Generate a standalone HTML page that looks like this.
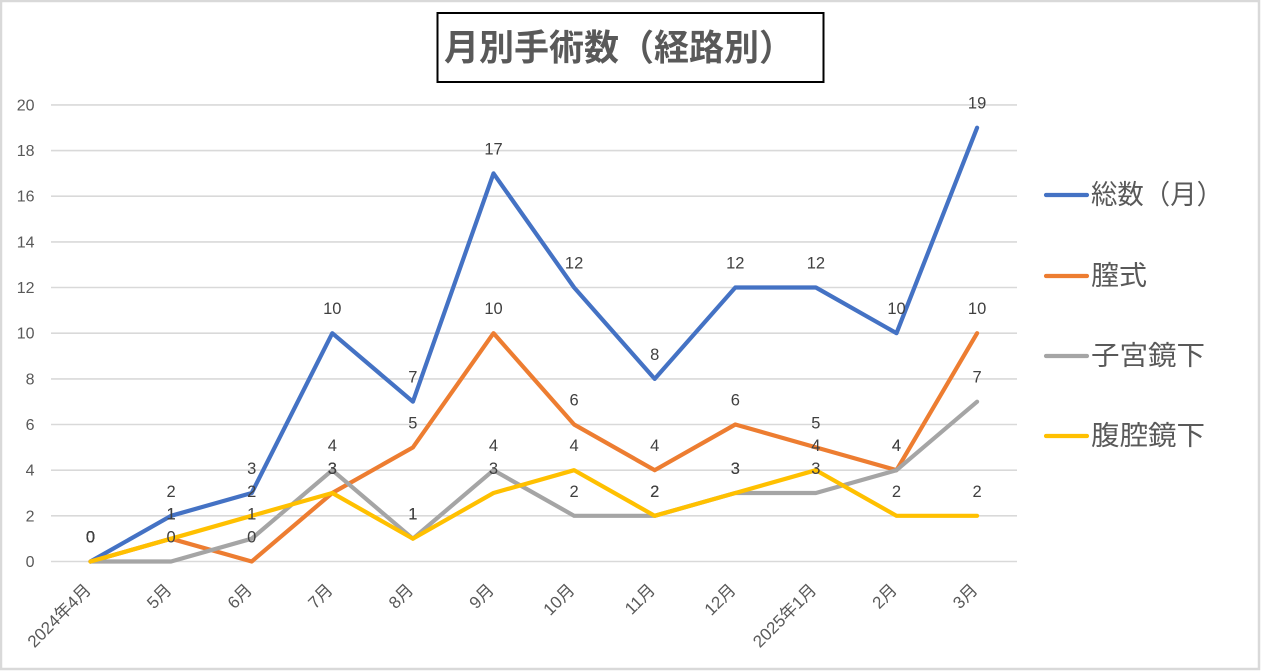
<!DOCTYPE html>
<html><head><meta charset="utf-8">
<style>
html,body{margin:0;padding:0;background:#fff;}
svg{display:block;}
text{font-family:"Liberation Sans","Noto Sans CJK JP",sans-serif;}
</style></head>
<body>
<svg width="1261" height="671" viewBox="0 0 1261 671" xmlns="http://www.w3.org/2000/svg">
<rect x="0" y="0" width="1261" height="671" fill="#fff"/>
<rect x="1" y="1" width="1258" height="668" fill="none" stroke="#d9d9d9" stroke-width="2.5"/>

<!-- title -->
<rect x="437.5" y="13" width="386" height="69" fill="#fff" stroke="#000" stroke-width="2"/>
<text x="444" y="60" font-size="36" font-weight="bold" fill="#595959" textLength="350" lengthAdjust="spacingAndGlyphs">月別手術数（経路別）</text>

<!-- gridlines -->
<g stroke="#d9d9d9" stroke-width="1.6">
<line x1="51" x2="1017" y1="561.5" y2="561.5"/>
<line x1="51" x2="1017" y1="515.8" y2="515.8"/>
<line x1="51" x2="1017" y1="470.2" y2="470.2"/>
<line x1="51" x2="1017" y1="424.5" y2="424.5"/>
<line x1="51" x2="1017" y1="378.9" y2="378.9"/>
<line x1="51" x2="1017" y1="333.2" y2="333.2"/>
<line x1="51" x2="1017" y1="287.5" y2="287.5"/>
<line x1="51" x2="1017" y1="241.9" y2="241.9"/>
<line x1="51" x2="1017" y1="196.2" y2="196.2"/>
<line x1="51" x2="1017" y1="150.6" y2="150.6"/>
<line x1="51" x2="1017" y1="104.9" y2="104.9"/>
</g>

<!-- y labels -->
<g font-size="16" fill="#595959" text-anchor="end">
<text x="34.5" y="567">0</text>
<text x="34.5" y="521.3">2</text>
<text x="34.5" y="475.7">4</text>
<text x="34.5" y="430">6</text>
<text x="34.5" y="384.4">8</text>
<text x="34.5" y="338.7">10</text>
<text x="34.5" y="293">12</text>
<text x="34.5" y="247.4">14</text>
<text x="34.5" y="201.7">16</text>
<text x="34.5" y="156.1">18</text>
<text x="34.5" y="110.4">20</text>
</g>

<!-- x labels -->
<g font-size="17" fill="#595959" text-anchor="end">
<text transform="translate(92,591) rotate(-45)">2024年4月</text>
<text transform="translate(172.6,591) rotate(-45)">5月</text>
<text transform="translate(253.2,591) rotate(-45)">6月</text>
<text transform="translate(333.8,591) rotate(-45)">7月</text>
<text transform="translate(414.4,591) rotate(-45)">8月</text>
<text transform="translate(495,591) rotate(-45)">9月</text>
<text transform="translate(575.6,591) rotate(-45)">10月</text>
<text transform="translate(656.2,591) rotate(-45)">11月</text>
<text transform="translate(736.8,591) rotate(-45)">12月</text>
<text transform="translate(817.4,591) rotate(-45)">2025年1月</text>
<text transform="translate(898,591) rotate(-45)">2月</text>
<text transform="translate(978.6,591) rotate(-45)">3月</text>
</g>

<!-- series -->
<g fill="none" stroke-width="4.2" stroke-linejoin="round" stroke-linecap="round">
<polyline stroke="#4472C4" points="90.5,561.5 171.1,515.8 251.7,493.0 332.3,333.2 412.9,401.7 493.5,173.4 574.1,287.5 654.7,378.9 735.3,287.5 815.9,287.5 896.5,333.2 977.1,127.7"/>
<polyline stroke="#ED7D31" points="90.5,561.5 171.1,538.7 251.7,561.5 332.3,493.0 412.9,447.4 493.5,333.2 574.1,424.5 654.7,470.2 735.3,424.5 815.9,447.4 896.5,470.2 977.1,333.2"/>
<polyline stroke="#A5A5A5" points="90.5,561.5 171.1,561.5 251.7,538.7 332.3,470.2 412.9,538.7 493.5,470.2 574.1,515.8 654.7,515.8 735.3,493.0 815.9,493.0 896.5,470.2 977.1,401.7"/>
<polyline stroke="#FFC000" points="90.5,561.5 171.1,538.7 251.7,515.8 332.3,493.0 412.9,538.7 493.5,493.0 574.1,470.2 654.7,515.8 735.3,493.0 815.9,470.2 896.5,515.8 977.1,515.8"/>
</g>

<!-- data labels -->
<g font-size="16.5" fill="#404040" text-anchor="middle">
<!-- total -->
<text x="90.5" y="542.5">0</text>
<text x="171.1" y="496.8">2</text>
<text x="251.7" y="474">3</text>
<text x="332.3" y="314.2">10</text>
<text x="412.9" y="382.7">7</text>
<text x="493.5" y="154.4">17</text>
<text x="574.1" y="268.5">12</text>
<text x="654.7" y="359.9">8</text>
<text x="735.3" y="268.5">12</text>
<text x="815.9" y="268.5">12</text>
<text x="896.5" y="314.2">10</text>
<text x="977.1" y="108.7">19</text>
<!-- 膣式 -->
<text x="90.5" y="542.5">0</text>
<text x="171.1" y="519.7">1</text>
<text x="251.7" y="542.5">0</text>
<text x="332.3" y="474">3</text>
<text x="412.9" y="428.4">5</text>
<text x="493.5" y="314.2">10</text>
<text x="574.1" y="405.5">6</text>
<text x="654.7" y="451.2">4</text>
<text x="735.3" y="405.5">6</text>
<text x="815.9" y="428.4">5</text>
<text x="896.5" y="451.2">4</text>
<text x="977.1" y="314.2">10</text>
<!-- 子宮鏡下 -->
<text x="90.5" y="542.5">0</text>
<text x="171.1" y="542.5">0</text>
<text x="251.7" y="519.7">1</text>
<text x="332.3" y="451.2">4</text>
<text x="412.9" y="519.7">1</text>
<text x="493.5" y="451.2">4</text>
<text x="574.1" y="496.8">2</text>
<text x="654.7" y="496.8">2</text>
<text x="735.3" y="474">3</text>
<text x="815.9" y="474">3</text>
<text x="896.5" y="451.2">4</text>
<text x="977.1" y="382.7">7</text>
<!-- 腹腔鏡下 -->
<text x="90.5" y="542.5">0</text>
<text x="171.1" y="519.7">1</text>
<text x="251.7" y="496.8">2</text>
<text x="332.3" y="474">3</text>
<text x="412.9" y="519.7">1</text>
<text x="493.5" y="474">3</text>
<text x="574.1" y="451.2">4</text>
<text x="654.7" y="496.8">2</text>
<text x="735.3" y="474">3</text>
<text x="815.9" y="451.2">4</text>
<text x="896.5" y="496.8">2</text>
<text x="977.1" y="496.8">2</text>
</g>

<!-- legend -->
<g stroke-width="4.2" stroke-linecap="round">
<line x1="1046" x2="1087" y1="195" y2="195" stroke="#4472C4"/>
<line x1="1046" x2="1087" y1="276" y2="276" stroke="#ED7D31"/>
<line x1="1046" x2="1087" y1="356" y2="356" stroke="#A5A5A5"/>
<line x1="1046" x2="1087" y1="436" y2="436" stroke="#FFC000"/>
</g>
<g font-size="27" fill="#595959">
<text x="1091" y="204" textLength="132" lengthAdjust="spacingAndGlyphs">総数（月）</text>
<text x="1091" y="285" textLength="56" lengthAdjust="spacingAndGlyphs">膣式</text>
<text x="1091" y="365" textLength="114" lengthAdjust="spacingAndGlyphs">子宮鏡下</text>
<text x="1091" y="445" textLength="114" lengthAdjust="spacingAndGlyphs">腹腔鏡下</text>
</g>
</svg>
</body></html>
